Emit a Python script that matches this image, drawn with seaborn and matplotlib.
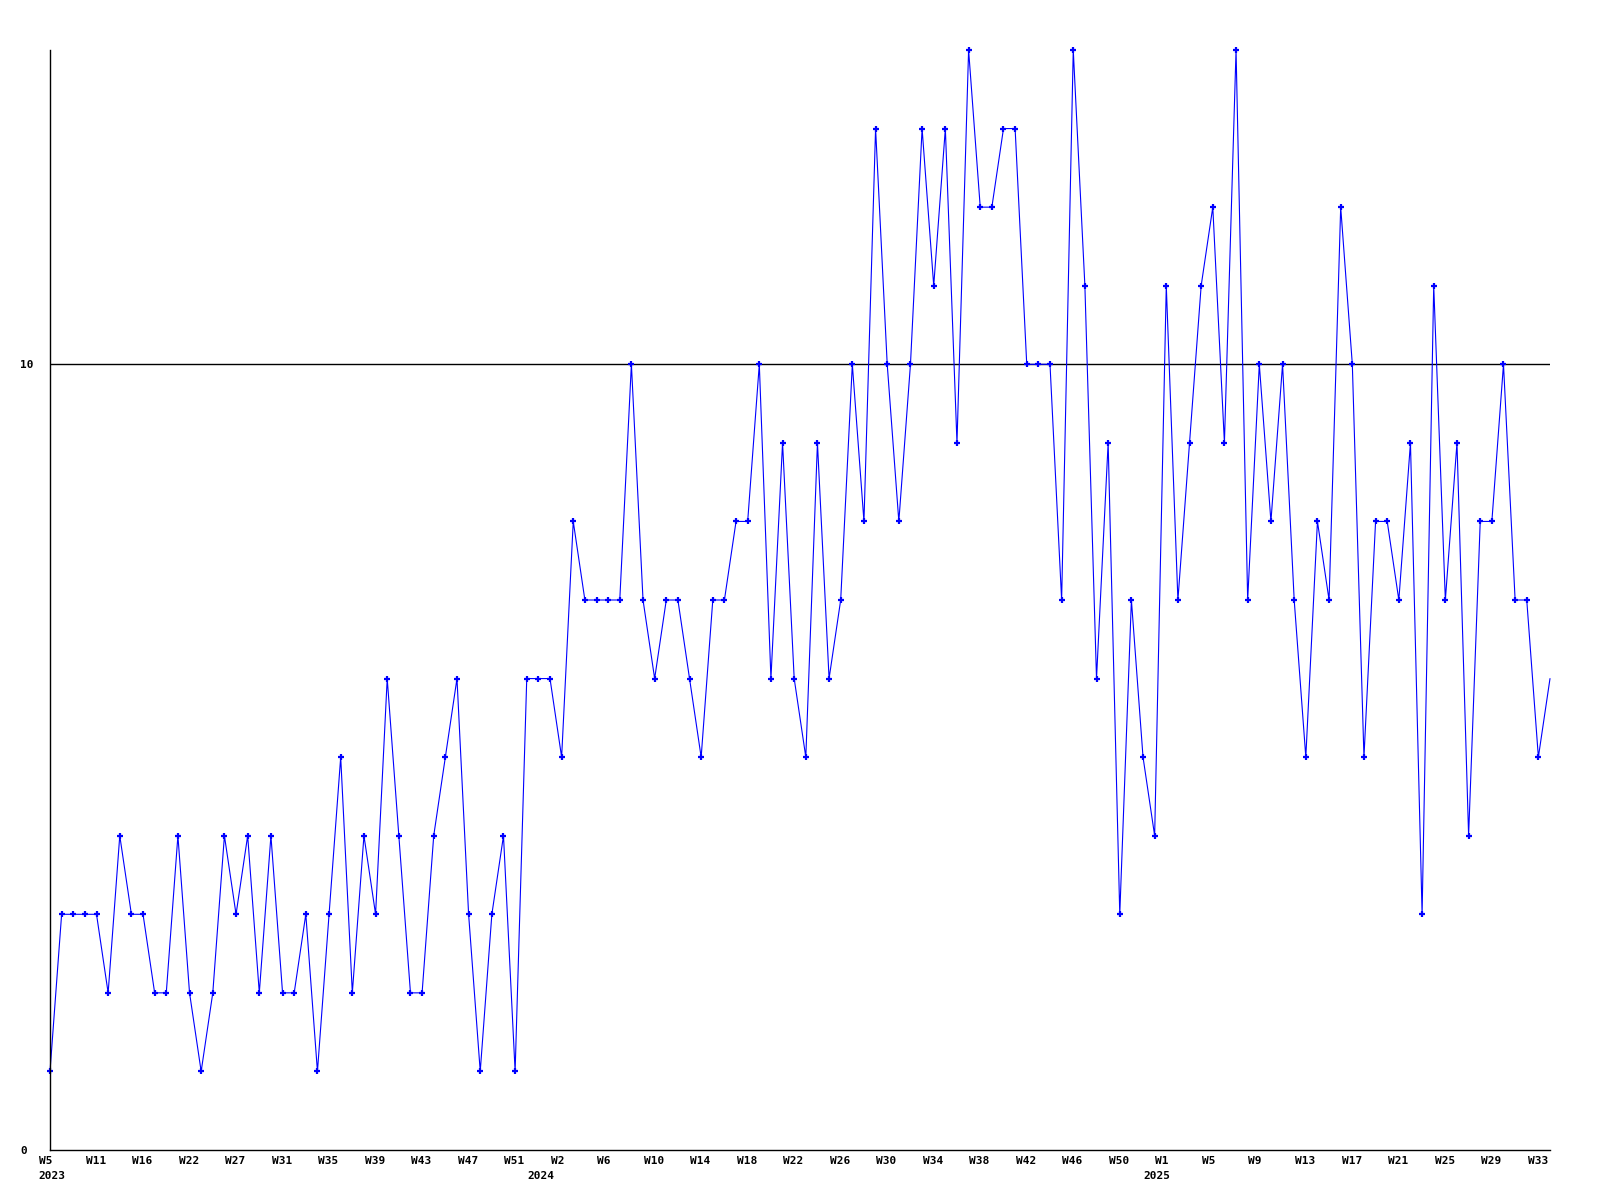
import matplotlib
matplotlib.use("Agg")
import matplotlib.pyplot as plt
import numpy as np
import pandas as pd
import seaborn as sns

# weekly counts, W5 2023 .. W34 2025
values = [
    1, 3, 3, 3, 3, 2, 4, 3, 3, 2,
    2, 4, 2, 1, 2, 4, 3, 4, 2, 4,
    2, 2, 3, 1, 3, 5, 2, 4, 3, 6,
    4, 2, 2, 4, 5, 6, 3, 1, 3, 4,
    1, 6, 6, 6, 5, 8, 7, 7, 7, 7,
    10, 7, 6, 7, 7, 6, 5, 7, 7, 8,
    8, 10, 6, 9, 6, 5, 9, 6, 7, 10,
    8, 13, 10, 8, 10, 13, 11, 13, 9, 14,
    12, 12, 13, 13, 10, 10, 10, 7, 14, 11,
    6, 9, 3, 7, 5, 4, 11, 7, 9, 11,
    12, 9, 14, 7, 10, 8, 10, 7, 5, 8,
    7, 12, 10, 5, 8, 8, 7, 9, 3, 11,
    7, 9, 4, 8, 8, 10, 7, 7, 5, 6,
]
week_labels = [
    "W5", "W11", "W16", "W22", "W27", "W31", "W35", "W39", "W43", "W47",
    "W51", "W2", "W6", "W10", "W14", "W18", "W22", "W26", "W30", "W34",
    "W38", "W42", "W46", "W50", "W1", "W5", "W9", "W13", "W17", "W21",
    "W25", "W29", "W33",
]
year_labels = ["2023", "2024", "2025"]
year_pos = [-0.96, 41.07, 93.99]

df = pd.DataFrame({"idx": np.arange(len(values)), "value": values})

sns.set_style("white")
plt.rcParams["font.family"] = ["DejaVu Sans Mono"]
plt.rcParams["font.weight"] = "bold"
plt.rcParams["text.color"] = "black"
plt.rcParams["ytick.color"] = "black"

fig = plt.figure(figsize=(16, 12), dpi=100)
ax = fig.add_axes([50 / 1600, 50 / 1200, 1500 / 1600, 1100 / 1200])

sns.lineplot(
    data=df, x="idx", y="value", ax=ax, color="#0000ff", linewidth=0.8,
    marker="+", markersize=4.5, markeredgewidth=1.6, markeredgecolor="#0000ff",
    markevery=list(range(len(values) - 1)), sort=False, clip_on=False,
)
ax.axhline(10, color="black", linewidth=1.0, zorder=1)

ax.set_xlim(0, len(values) - 1)
ax.set_ylim(0, 14)
ax.set_xlabel("")
ax.set_ylabel("")

for side in ["top", "right"]:
    ax.spines[side].set_visible(False)
for side in ["left", "bottom"]:
    ax.spines[side].set_color("black")
    ax.spines[side].set_linewidth(1.0)

# week labels: left edge sits a little left of the tick position
ax.set_xticks([])
tick_pos = np.arange(0, 4 * len(week_labels), 4)
for lab, xp in zip(week_labels, tick_pos):
    ax.text(xp - 0.93, -0.0055, lab, transform=ax.get_xaxis_transform(),
            ha="left", va="top", fontsize=8, fontweight="bold", color="black")

ax.set_yticks([0, 10])
ax.set_yticklabels(["0", "10"], fontsize=8, fontweight="bold", ha="left",
                   color="black")
ax.tick_params(axis="y", length=0, pad=21.3)

for yr, xp in zip(year_labels, year_pos):
    ax.text(xp, -0.019, yr, transform=ax.get_xaxis_transform(), ha="left",
            va="top", fontsize=8, fontweight="bold", color="black")

fig.savefig("out.png", dpi=100)
plt.close(fig)
